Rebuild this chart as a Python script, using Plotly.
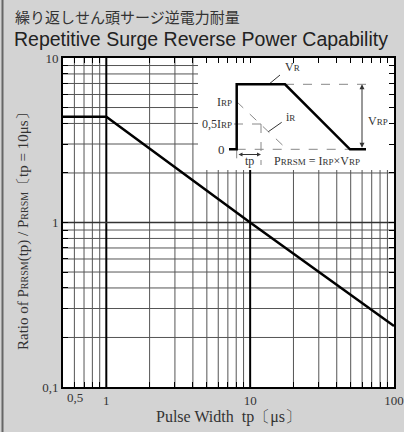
import math
import plotly.graph_objects as go

# ---- data ----
pulse_width_us = [0.5, 1, 10, 100]
power_ratio = [4.4, 4.4, 1.0, 0.235]

x_tick_vals = [1, 10, 100]
x_tick_text = ["1", "10", "100"]
y_tick_vals = [0.1, 1, 10]
y_tick_text = ["0,1", "1", "10"]
x_minor_vals = [0.6, 0.7, 0.8, 0.9, 2, 3, 4, 5, 6, 7, 8, 9, 20, 30, 40, 50, 60, 70, 80, 90]
y_minor_vals = [0.2, 0.3, 0.4, 0.5, 0.6, 0.7, 0.8, 0.9, 2, 3, 4, 5, 6, 7, 8, 9]

title_jp = "繰り返しせん頭サージ逆電力耐量"
title_en = "Repetitive Surge Reverse Power Capability"

X_RANGE = [math.log10(0.5), 2]
Y_RANGE = [-1, 1]

W, H = 404, 432
L, R, T, B = 63, 10, 58, 45
PW, PH = W - L - R, H - T - B


def px(x):
    return (x - L) / PW


def py(y):
    return (H - B - y) / PH


def xfrac(v):
    return (math.log10(v) - X_RANGE[0]) / (X_RANGE[1] - X_RANGE[0])


def yfrac(v):
    return (math.log10(v) - Y_RANGE[0]) / (Y_RANGE[1] - Y_RANGE[0])


SERIF = "Liberation Serif, DejaVu Serif, serif"
SANS = "Liberation Sans, Arial, sans-serif"
TXT = "#333333"


def sm(s, size=9):
    return f"<span style='font-size:{size}px'>{s}</span>"


fig = go.Figure()
fig.add_trace(go.Scatter(
    x=pulse_width_us, y=power_ratio, mode="lines",
    line=dict(color="black", width=2.5), showlegend=False, hoverinfo="skip"))

shapes = []
# grid lines (drawn as background shapes so the inset can cover them)
for v in x_minor_vals:
    f = xfrac(v)
    shapes.append(dict(type="line", xref="paper", yref="paper", x0=f, x1=f, y0=0, y1=1,
                       line=dict(color="#555", width=1), layer="below"))
for v in y_minor_vals:
    f = yfrac(v)
    shapes.append(dict(type="line", xref="paper", yref="paper", x0=0, x1=1, y0=f, y1=f,
                       line=dict(color="#555", width=1), layer="below"))
for v in [1, 10]:
    f = xfrac(v)
    shapes.append(dict(type="line", xref="paper", yref="paper", x0=f, x1=f, y0=0, y1=1,
                       line=dict(color="black", width=2), layer="below"))
f1 = yfrac(1)
shapes.append(dict(type="line", xref="paper", yref="paper", x0=0, x1=1, y0=f1, y1=f1,
                   line=dict(color="#333", width=1.3), layer="below"))

# inset white box (covers gridlines)
shapes.append(dict(type="rect", xref="paper", yref="paper",
                   x0=px(198), x1=px(394), y0=py(170), y1=py(58),
                   fillcolor="white", line=dict(width=0), layer="below"))
# left border of the picture
shapes.append(dict(type="line", xref="paper", yref="paper",
                   x0=px(2.5), x1=px(2.5), y0=py(0), y1=py(432),
                   line=dict(color="#666", width=2)))


def seg(x0, y0, x1, y1, color="#888", width=1, dash="dash"):
    shapes.append(dict(type="line", xref="paper", yref="paper",
                       x0=px(x0), y0=py(y0), x1=px(x1), y1=py(y1),
                       line=dict(color=color, width=width, dash=dash)))


# dashed helper lines
seg(285, 84.3, 366, 84.3)
seg(236.7, 149.3, 350, 149.3)
seg(236.7, 101.7, 287, 149.3)
seg(234, 124, 261, 124)
seg(261, 124, 261, 165)
seg(236.7, 149.3, 236.7, 165)
# pointer lines
seg(280, 75, 270, 83.3, color="#333", dash="solid")
seg(281.7, 122.3, 268.3, 131.7, color="#333", dash="solid")
# waveform vR
wave = [(229, 149.3), (236.7, 149.3), (236.7, 84.3), (285, 84.3), (350, 149.3), (366, 149.3)]
path = "M " + " L ".join(f"{px(a)},{py(b)}" for a, b in wave)
shapes.append(dict(type="path", xref="paper", yref="paper", path=path,
                   line=dict(color="black", width=2.5)))

ann = []


def lab(x, y, text, xanchor="center", size=12):
    ann.append(dict(xref="paper", yref="paper", x=px(x), y=py(y), text=text,
                    showarrow=False, xanchor=xanchor, yanchor="middle",
                    font=dict(family=SERIF, size=size, color=TXT)))


lab(292, 67, "V" + sm("R"))
lab(290, 117, "i" + sm("R"))
lab(234, 102, "I" + sm("RP"), xanchor="right")
lab(234, 124, "0,5I" + sm("RP"), xanchor="right")
lab(227, 149, "0", xanchor="right", size=13)
lab(378, 121, "V" + sm("RP"))
lab(249, 161, "tp")
lab(317, 161, "P" + sm("RRSM") + " = I" + sm("RP") + "×V" + sm("RP"))
lab(75, 397, "0,5", size=13)

# double-headed arrows
ann.append(dict(xref="paper", yref="paper", x=px(362), y=py(84.3), ax=0, ay=65,
                axref="pixel", ayref="pixel", text="", showarrow=True,
                arrowside="end+start", arrowhead=2, arrowsize=1, arrowwidth=1,
                arrowcolor="#333"))
ann.append(dict(xref="paper", yref="paper", x=px(261), y=py(154.5), ax=-24, ay=0,
                axref="pixel", ayref="pixel", text="", showarrow=True,
                arrowside="end+start", arrowhead=2, arrowsize=0.8, arrowwidth=1,
                arrowcolor="#333"))

# titles
ann.append(dict(xref="paper", yref="paper", x=px(13), y=py(16), text=title_jp,
                showarrow=False, xanchor="left", yanchor="middle",
                font=dict(family="Noto Sans CJK JP", size=15, color=TXT)))
ann.append(dict(xref="paper", yref="paper", x=px(12), y=py(39), text=title_en,
                showarrow=False, xanchor="left", yanchor="middle",
                font=dict(family=SANS, size=19.5, color="#222")))
# axis titles
ann.append(dict(xref="paper", yref="paper", x=px(23), y=py(228),
                text="Ratio of P" + sm("RRSM", 10) + "(tp) / P" + sm("RRSM", 10) + "〔tp = 10μs〕",
                showarrow=False, textangle=-90, xanchor="center", yanchor="middle",
                font=dict(family=SERIF, size=15, color=TXT)))
ann.append(dict(xref="paper", yref="paper", x=px(228), y=py(417),
                text="Pulse Width  tp〔μs〕",
                showarrow=False, xanchor="center", yanchor="middle",
                font=dict(family=SERIF, size=16, color=TXT)))

fig.update_layout(
    width=W, height=H,
    margin=dict(l=L, r=R, t=T, b=B, pad=0, autoexpand=False),
    paper_bgcolor="#d3d3d3", plot_bgcolor="white",
    shapes=shapes, annotations=ann, showlegend=False,
    xaxis=dict(type="log", range=X_RANGE, tickmode="array",
               tickvals=x_tick_vals + x_minor_vals,
               ticktext=x_tick_text + [""] * len(x_minor_vals),
               ticks="inside", ticklen=5, tickcolor="black",
               showline=True, linecolor="black", linewidth=2, mirror="ticks",
               showgrid=False, automargin=False,
               tickfont=dict(family=SERIF, size=13, color=TXT),
               zeroline=False, fixedrange=True),
    yaxis=dict(type="log", range=Y_RANGE, tickmode="array",
               tickvals=y_tick_vals + y_minor_vals,
               ticktext=y_tick_text + [""] * len(y_minor_vals),
               ticks="inside", ticklen=5, tickcolor="black",
               showline=True, linecolor="black", linewidth=2, mirror="ticks",
               showgrid=False, automargin=False,
               tickfont=dict(family=SERIF, size=13, color=TXT),
               zeroline=False, fixedrange=True),
)

fig.write_html("out.html", config={"displayModeBar": False},
               post_script="document.body.style.margin='0px';document.body.style.overflow='hidden';")
